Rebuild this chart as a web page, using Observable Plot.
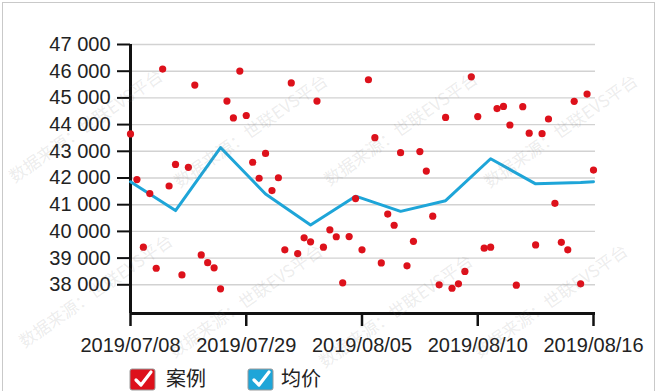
<!DOCTYPE html>
<html><head><meta charset="utf-8">
<script src="https://cdn.jsdelivr.net/npm/d3@7"></script>
<script src="https://cdn.jsdelivr.net/npm/@observablehq/plot@0.6"></script>
<style>
html,body{margin:0;padding:0;width:656px;height:391px;overflow:hidden;background:#fff;}
#wrap{position:relative;width:656px;height:391px;overflow:hidden;}
#chart{position:absolute;left:0;top:0;}
#frame{position:absolute;left:2px;top:2px;width:651px;height:420px;border:1px solid #c9c9c9;pointer-events:none;}
.wm{position:absolute;font:17px "Noto Sans CJK SC",sans-serif;color:rgba(120,120,120,0.15);white-space:nowrap;transform:translate(-50%,-50%) rotate(-35deg);pointer-events:none;}
.lg{position:absolute;font:20px "Noto Sans CJK SC",sans-serif;color:#222;line-height:22px;}
.ic{position:absolute;}
</style></head><body>
<div id="wrap">
  <div id="chart"></div>
  <div id="legend"></div>
  <div id="wm"></div>
  <div id="frame"></div>
</div>
<script>
// 案例 (individual cases), in category order
const caseValues = [
  43650, 41940, 39410, 41415, 38620, 46080, 41700, 42510, 38370, 42400,
  45480, 39120, 38830, 38635, 37850, 44880, 44250, 46005, 44340, 42590,
  41990, 42920, 41530, 42010, 39310, 45560, 39170, 39760, 39610, 44880,
  39410, 40060, 39800, 38075, 39805, 41230, 39310, 45680, 43510, 38820,
  40650, 40230, 42950, 38710, 39630, 42990, 42260, 40570, 38000, 44270,
  37870, 38035, 38500, 45790, 44300, 39370, 39410, 44600, 44680, 43985,
  37985, 44670, 43680, 39495, 43660, 44210, 41050, 39590, 39310, 44870,
  38035, 45145, 42295
];
// 均价 (average price) vertices: category index and value
const avgIndex  = [0, 7, 14, 21, 28, 35, 42, 49, 56, 63, 70, 72];
const avgValues = [41860, 40780, 43140, 41400, 40240, 41320, 40750, 41150, 42720, 41780, 41830, 41860];
// x tick labels (every 18 categories)
const tickIndex  = [0, 18, 36, 54, 72];
const tickLabels = ["2019/07/08", "2019/07/29", "2019/08/05", "2019/08/10", "2019/08/16"];
// y ticks
const yTicks = [38000, 39000, 40000, 41000, 42000, 43000, 44000, 45000, 46000, 47000];
const yMin = 36925, yMax = 47000;
const seriesNames = ["案例", "均价"];
const seriesColors = ["#dd111b", "#1ea5d8"];
const watermark = "数据来源：世联EVS平台";

const cases = caseValues.map((v, i) => ({i, v}));
const avg = avgIndex.map((i, k) => ({i, v: avgValues[k]}));
const fmt = v => d3.format(",")(v).replace(/,/g, " ");

const chart = Plot.plot({
  width: 656, height: 366,
  marginLeft: 130, marginRight: 61, marginTop: 44, marginBottom: 53,
  style: {fontFamily: "'Liberation Sans', Arial, sans-serif", fontSize: "20px", color: "#222", background: "transparent", overflow: "visible"},
  x: {type: "linear", domain: [0, caseValues.length - 1], range: [130, 593], label: null},
  y: {domain: [yMin, yMax], label: null},
  marks: [
    Plot.gridY(yTicks, {stroke: "#d2d2d2", strokeOpacity: 1, strokeWidth: 1.4}),
    Plot.axisY(yTicks, {tickSize: 13, tickPadding: 7, tickFormat: fmt, stroke: "#111", strokeWidth: 2, fontSize: 20, label: null}),
    Plot.axisX(tickIndex, {tickSize: 13, tickPadding: 11, tickFormat: i => tickLabels[tickIndex.indexOf(i)], stroke: "#111", strokeWidth: 2.5, fontSize: 20, label: null}),
    Plot.ruleX([0], {stroke: "#111", strokeWidth: 3}),
    Plot.ruleY([yMin], {stroke: "#111", strokeWidth: 3}),
    Plot.line(avg, {x: "i", y: "v", stroke: seriesColors[1], strokeWidth: 3}),
    Plot.dot(cases, {x: "i", y: "v", r: 3.6, fill: seriesColors[0]})
  ]
});
document.getElementById("chart").appendChild(chart);

// legend (placed just below the axis labels)
const lg = document.getElementById("legend");
const icon = (color, left) => `<svg class="ic" style="left:${left}px;top:368px" width="28" height="23" viewBox="0 0 28 23">
    <rect x="1" y="1" width="25" height="21" rx="2" fill="${color}" stroke="#9a9a9a" stroke-width="1"/>
    <polyline points="7,12 12,17 22,4" fill="none" stroke="#fff" stroke-width="3.2" stroke-linecap="round" stroke-linejoin="round"/>
  </svg>`;
lg.innerHTML = icon(seriesColors[0], 129) + `<span class="lg" style="left:166px;top:367px">${seriesNames[0]}</span>` +
               icon(seriesColors[1], 247) + `<span class="lg" style="left:281px;top:367px">${seriesNames[1]}</span>`;

// watermark tiles
const wmPos = [[85,125],[250,130],[400,128],[560,130],[95,290],[245,300],[395,310],[550,300]];
document.getElementById("wm").innerHTML = wmPos.map(([x, y]) => `<span class="wm" style="left:${x}px;top:${y}px">${watermark}</span>`).join("");
</script>
</body></html>
